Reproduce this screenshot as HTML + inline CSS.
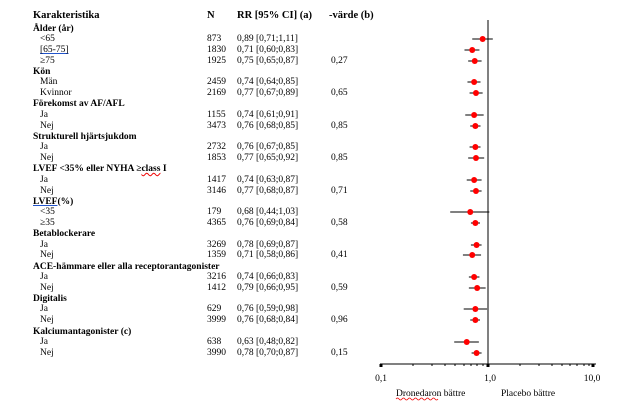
<!DOCTYPE html>
<html><head><meta charset="utf-8"><style>
body{margin:0;width:617px;height:409px;background:#fff;position:relative;overflow:hidden;font-family:"Liberation Serif",serif;font-size:9.5px;color:#000}
.t{position:absolute;line-height:12px;white-space:nowrap}
.b{font-weight:bold}
.u{text-decoration:underline;text-decoration-color:#2255cc}
.w{text-decoration:underline wavy #e00;text-decoration-thickness:0.7px}
</style></head><body>
<div class="t b" style="left:33px;top:10px;font-size:10.5px">Karakteristika</div>
<div class="t b" style="left:207px;top:10px;font-size:10.5px">N</div>
<div class="t b" style="left:237px;top:10px;font-size:10.5px">RR [95% CI] (a)</div>
<div class="t b" style="left:329px;top:10px;font-size:10.5px">-värde (b)</div>
<div id="rows"></div>
<svg width="617" height="409" style="position:absolute;left:0;top:0" id="plot">
<line x1="488" y1="20" x2="488" y2="364" stroke="#000" stroke-width="1"/>
<line x1="380" y1="364" x2="596" y2="364" stroke="#000" stroke-width="1"/>
<g stroke="#000" stroke-width="1">
<line x1="381" y1="364" x2="381" y2="367" stroke-width="3"/>
<line x1="488" y1="364" x2="488" y2="367" stroke-width="3"/>
<line x1="593" y1="364" x2="593" y2="367" stroke-width="3"/>
<line x1="413" y1="364" x2="413" y2="366"/><line x1="432" y1="364" x2="432" y2="366"/><line x1="445" y1="364" x2="445" y2="366"/><line x1="455" y1="364" x2="455" y2="366"/><line x1="464" y1="364" x2="464" y2="366"/><line x1="471" y1="364" x2="471" y2="366"/><line x1="477" y1="364" x2="477" y2="366"/><line x1="483" y1="364" x2="483" y2="366"/>
<line x1="520" y1="364" x2="520" y2="366"/><line x1="539" y1="364" x2="539" y2="366"/><line x1="552" y1="364" x2="552" y2="366"/><line x1="562" y1="364" x2="562" y2="366"/><line x1="570" y1="364" x2="570" y2="366"/><line x1="577" y1="364" x2="577" y2="366"/><line x1="584" y1="364" x2="584" y2="366"/><line x1="589" y1="364" x2="589" y2="366"/>
</g>
<text x="381" y="381" font-family="Liberation Serif" font-size="9.5" text-anchor="middle">0,1</text>
<text x="490" y="381" font-family="Liberation Serif" font-size="9.5" text-anchor="middle">1,0</text>
<text x="592" y="381" font-family="Liberation Serif" font-size="9.5" text-anchor="middle">10,0</text>
<text x="396" y="396" font-family="Liberation Serif" font-size="9.5">Dronedaron bättre</text>
<path d="M396 399 q1.5 -2 3 0 t3 0 t3 0 t3 0 t3 0 t3 0 t3 0 t3 0 t3 0 t3 0 t3 0 t3 0 t3 0 t3 0" fill="none" stroke="#e00" stroke-width="0.7"/>
<text x="501" y="396" font-family="Liberation Serif" font-size="9.5">Placebo bättre</text>
</svg>
<script>
var R=[
["Ålder (år)",29,1],["&lt;65",39,0,"873","0,89 [0,71;1,11]","",.89,.71,1.11],['<span class="u">[65-75]</span>',50,0,"1830","0,71 [0,60;0,83]","",.71,.60,.83],["≥75",61,0,"1925","0,75 [0,65;0,87]","0,27",.75,.65,.87],
["Kön",72,1],["Män",82,0,"2459","0,74 [0,64;0,85]","",.74,.64,.85],["Kvinnor",93,0,"2169","0,77 [0,67;0,89]","0,65",.77,.67,.89],
["Förekomst av AF/AFL",104,1],["Ja",115,0,"1155","0,74 [0,61;0,91]","",.74,.61,.91],["Nej",126,0,"3473","0,76 [0,68;0,85]","0,85",.76,.68,.85],
["Strukturell hjärtsjukdom",137,1],["Ja",147,0,"2732","0,76 [0,67;0,85]","",.76,.67,.85],["Nej",158,0,"1853","0,77 [0,65;0,92]","0,85",.77,.65,.92],
['LVEF &lt;35% eller NYHA ≥<span class="w">class</span> I',169,1],["Ja",180,0,"1417","0,74 [0,63;0,87]","",.74,.63,.87],["Nej",191,0,"3146","0,77 [0,68;0,87]","0,71",.77,.68,.87],
['<span class="u">LVEF</span>(%)',202,1],["&lt;35",212,0,"179","0,68 [0,44;1,03]","",.68,.44,1.03],["≥35",223,0,"4365","0,76 [0,69;0,84]","0,58",.76,.69,.84],
["Betablockerare",234,1],["Ja",245,0,"3269","0,78 [0,69;0,87]","",.78,.69,.87],["Nej",255,0,"1359","0,71 [0,58;0,86]","0,41",.71,.58,.86],
["ACE-hämmare eller alla receptorantagonister",267,1],["Ja",277,0,"3216","0,74 [0,66;0,83]","",.74,.66,.83],["Nej",288,0,"1412","0,79 [0,66;0,95]","0,59",.79,.66,.95],
["Digitalis",299,1],["Ja",309,0,"629","0,76 [0,59;0,98]","",.76,.59,.98],["Nej",320,0,"3999","0,76 [0,68;0,84]","0,96",.76,.68,.84],
["Kalciumantagonister (c)",332,1],["Ja",342,0,"638","0,63 [0,48;0,82]","",.63,.48,.82],["Nej",353,0,"3990","0,78 [0,70;0,87]","0,15",.78,.70,.87]];
var h="",s="";function X(v){return 488+106*Math.log10(v);}
R.forEach(function(r){var t=r[1]-6;
if(r[2]){h+='<div class="t b" style="left:33px;top:'+t+'px">'+r[0]+'</div>';}
else{h+='<div class="t" style="left:40px;top:'+t+'px">'+r[0]+'</div><div class="t" style="left:207px;top:'+t+'px">'+r[3]+'</div><div class="t" style="left:237px;top:'+t+'px">'+r[4]+'</div><div class="t" style="left:331px;top:'+t+'px">'+r[5]+'</div>';
s+='<line x1="'+X(r[7])+'" y1="'+r[1]+'" x2="'+X(r[8])+'" y2="'+r[1]+'" stroke="#000" stroke-width="1"/><circle cx="'+X(r[6])+'" cy="'+r[1]+'" r="3" fill="#f00"/>';}});
document.getElementById("rows").innerHTML=h;
document.getElementById("plot").insertAdjacentHTML("beforeend",s);
</script>
</body></html>
